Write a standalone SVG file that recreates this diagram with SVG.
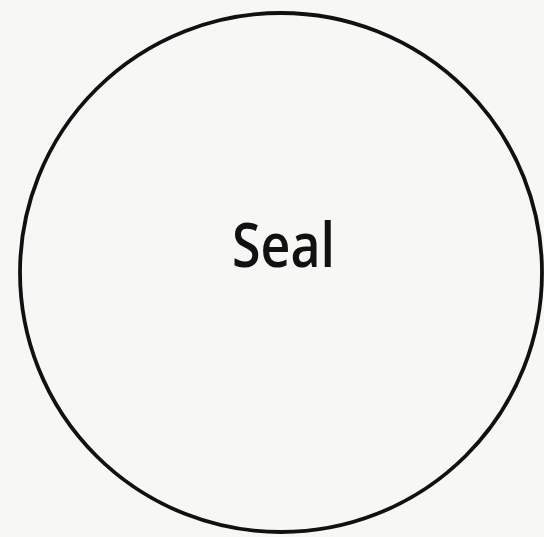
<svg xmlns="http://www.w3.org/2000/svg" width="544" height="537" viewBox="0 0 544 537">
<style>
.node-shape{fill:none;stroke:#111;stroke-width:3.8}
.label{font-family:"Open Sans","DejaVu Sans",sans-serif;font-size:62px;font-weight:600;fill:#111}
</style>
<rect width="544" height="537" fill="#f7f7f5"/>
<g id="connectors"></g>
<g id="seal">
<ellipse class="node-shape" cx="281" cy="272.5" rx="261" ry="259.5"/>
<text class="label" x="232" y="267" textLength="103" lengthAdjust="spacingAndGlyphs">Seal</text>
</g>
</svg>
